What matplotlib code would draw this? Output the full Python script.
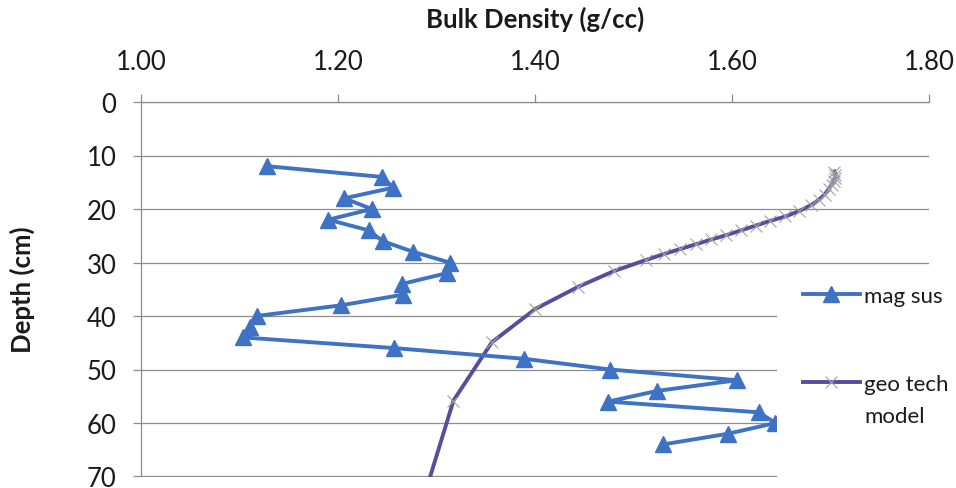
#!/usr/bin/env python3

import matplotlib
matplotlib.use('Agg')
import matplotlib.pyplot as plt
from matplotlib.patches import Rectangle
from matplotlib.ticker import FormatStrFormatter

mag_sus_depth = [12, 14, 16, 18, 20, 22, 24, 26, 28, 30, 32, 34, 36, 38,
                 40, 42, 44, 46, 48, 50, 52, 54, 56, 58, 60, 62, 64]
mag_sus_density = [1.128, 1.244, 1.256, 1.206, 1.234, 1.190, 1.231, 1.245,
                   1.276, 1.313, 1.310, 1.265, 1.266, 1.203, 1.117, 1.110,
                   1.103, 1.257, 1.389, 1.476, 1.605, 1.524, 1.474, 1.627,
                   1.644, 1.596, 1.530]

geo_depth = [13.0, 13.6, 14.2, 14.8, 15.5, 16.3, 17.3, 18.3, 19.3, 20.4,
             21.4, 22.2, 23.1, 24.0, 24.9, 25.7, 26.6, 27.5, 28.4, 29.5,
             31.6, 34.6, 38.7, 44.9, 55.8, 75.0]
geo_density = [1.704, 1.705, 1.705, 1.703, 1.701, 1.698, 1.694, 1.688,
               1.680, 1.668, 1.654, 1.639, 1.624, 1.609, 1.594, 1.579,
               1.563, 1.547, 1.531, 1.513, 1.480, 1.443, 1.400, 1.356,
               1.317, 1.285]

x_ticks = [1.00, 1.20, 1.40, 1.60, 1.80]
y_ticks = [0, 10, 20, 30, 40, 50, 60, 70]

GRID = '#8c8c8c'
TEXT = '#1a1a1a'
W, H = 956, 489


def main():
    plt.rcParams['font.family'] = ['Lato', 'DejaVu Sans']

    fig = plt.figure(figsize=(W / 100, H / 100), dpi=100)
    ax = fig.add_axes([141.4 / W, 1 - 477.5 / H,
                       (929 - 141.4) / W, (477.5 - 103) / H])

    ax.plot(mag_sus_density, mag_sus_depth, color='#3d72c4', lw=2.8,
            marker='^', markersize=11, label='mag sus', zorder=3)
    ax.plot(geo_density, geo_depth, color='#5b4b9f', lw=2.8,
            marker='x', markersize=9, markeredgecolor='#a3a3a3',
            markeredgewidth=0.8, label='geo tech', zorder=2)

    ax.set_xlim(1.0, 1.8)
    ax.set_ylim(70, 0)
    ax.set_xticks(x_ticks)
    ax.set_yticks(y_ticks)
    ax.xaxis.set_major_formatter(FormatStrFormatter('%.2f'))
    ax.xaxis.tick_top()

    ax.yaxis.grid(True, color=GRID, lw=0.9)
    ax.set_axisbelow(True)
    for side in ('right', 'bottom'):
        ax.spines[side].set_visible(False)
    for side in ('top', 'left'):
        ax.spines[side].set_color(GRID)
        ax.spines[side].set_linewidth(0.9)

    ax.tick_params(axis='x', direction='out', length=6, width=0.9,
                   color=GRID, pad=14, labelsize=18.5, labelcolor=TEXT)
    ax.tick_params(axis='y', direction='out', length=6, width=0.9,
                   color=GRID, pad=12, labelsize=18.5, labelcolor=TEXT)

    fig.text(535 / W, 1 - 19 / H, 'Bulk Density (g/cc)', ha='center',
             va='center', fontsize=18.5, fontweight='bold', color=TEXT)
    fig.text(22 / W, 1 - 290 / H, 'Depth (cm)', rotation=90,
             ha='center', va='center', fontsize=18.5, fontweight='bold',
             color=TEXT)

    # legend area sits over the plot, hiding the grid behind it
    fig.add_artist(Rectangle((777 / W, 0), 1, 1 - 272 / H,
                             transform=fig.transFigure, facecolor='white',
                             edgecolor='none', zorder=1))
    leg = fig.legend(loc='upper left', bbox_to_anchor=(803 / W, 1 - 287 / H),
                     frameon=False, fontsize=16, borderpad=0, borderaxespad=0,
                     handlelength=2.55, handletextpad=0.2, labelspacing=3.05)
    leg.set_zorder(5)
    for t in leg.get_texts():
        t.set_color(TEXT)

    # second line of the "geo tech model" entry, under the legend label
    fig.canvas.draw()
    bb = leg.get_texts()[1].get_window_extent()
    fig.text(bb.x0 / W, (bb.y0 + bb.y1) / 2 / H - 32 / H, 'model',
             ha='left', va='center', fontsize=16, color=TEXT, zorder=6)

    fig.savefig('out.png', dpi=100)


if __name__ == '__main__':
    main()
